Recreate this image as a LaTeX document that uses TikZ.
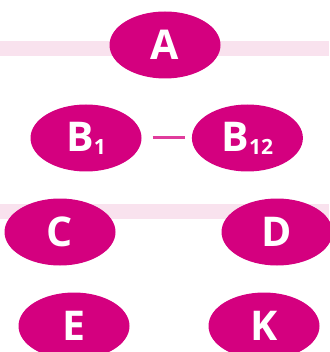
\documentclass[tikz,border=0pt]{standalone}
\usepackage{fontspec}
\setsansfont{Open Sans}
\usepackage{xcolor}
\definecolor{blob}{HTML}{D4007F}
\definecolor{blobdash}{HTML}{E03C9C}
\definecolor{bandpink}{HTML}{F9E2EE}
\usepackage{tikz}
\usetikzlibrary{positioning,shapes.geometric}

\newcommand{\subnum}[1]{{\fontsize{21}{21}\selectfont\raisebox{-3pt}{#1}}}

\begin{document}
\begin{tikzpicture}[x=1pt,y=-1pt,
  oval/.style={ellipse,fill=blob,text=white,font=\sffamily\bfseries\fontsize{41}{41}\selectfont,
               minimum width=111pt,minimum height=67pt,inner sep=0pt},
  band/.style={draw=bandpink,line width=15pt},
  link/.style={draw=blobdash,line width=3pt,shorten <=11pt,shorten >=7pt}]
\useasboundingbox (0,0) rectangle (329,352);
% background bands
\draw[band] (0,48.5) -- (329,48.5);
\draw[band] (0,211.5) -- (329,211.5);
% nodes
\node[oval] (a) at (165,45) {A};
\node[oval] (b1) at (86,138) {B\subnum{1}};
\node[oval,right=50pt of b1] (b12) {B\subnum{12}};
\node[oval] (c) at (60,232) {C};
\node[oval] (d) at (277,232) {D};
\node[oval] (e) at (74,326) {E};
\node[oval] (k) at (264,326) {K};
\draw[link] (b1) -- (b12);
\end{tikzpicture}
\end{document}
